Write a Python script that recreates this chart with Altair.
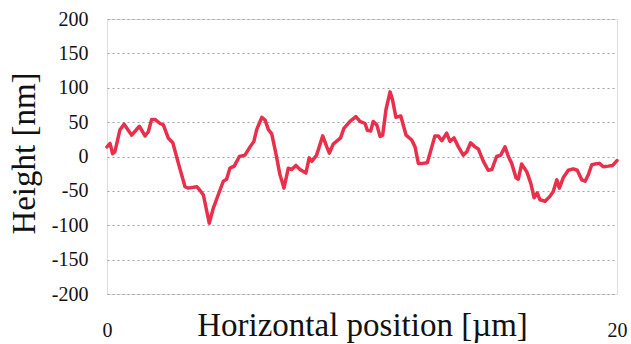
import altair as alt
import pandas as pd

# Surface height profile along a 20 µm scan line
position_um = [
    0.0, 0.12, 0.22, 0.31, 0.51, 0.67, 0.97, 1.27, 1.49, 1.62, 1.75, 1.88,
    2.08, 2.21, 2.40, 2.58, 2.80, 3.06, 3.19, 3.52, 3.62, 3.78, 4.01, 4.17,
    4.36, 4.56, 4.69, 4.82, 4.99, 5.19, 5.41, 5.61, 5.76, 5.87, 6.07, 6.20,
    6.33, 6.46, 6.63, 6.78, 6.94, 7.11, 7.24, 7.41, 7.57, 7.80, 7.93, 8.03,
    8.22, 8.46, 8.62, 8.72, 8.87, 9.16, 9.29, 9.53, 9.76, 9.92, 10.12, 10.21,
    10.34, 10.44, 10.58, 10.71, 10.81, 10.94, 11.10, 11.20, 11.33, 11.52, 11.73,
    11.95, 12.08, 12.21, 12.38, 12.56, 12.67, 12.86, 12.99, 13.13, 13.32, 13.45,
    13.61, 13.78, 13.97, 14.11, 14.26, 14.43, 14.56, 14.76, 14.95, 15.09, 15.28,
    15.44, 15.61, 15.74, 15.87, 16.04, 16.13, 16.26, 16.46, 16.62, 16.75, 16.87,
    16.98, 17.18, 17.37, 17.50, 17.64, 17.74, 17.89, 18.09, 18.29, 18.44, 18.62,
    18.75, 18.87, 19.01, 19.14, 19.31, 19.46, 19.66, 19.83, 20.0,
]
height_nm = [
    14, 19, 4, 7, 39, 47, 31, 44, 30, 36, 54, 54,
    48, 46, 27, 20, -10, -44, -46, -44, -48, -56, -97, -75,
    -56, -36, -33, -17, -14, 0, 2, 14, 22, 39, 57, 53,
    39, 33, 3, -26, -46, -17, -19, -13, -19, -24, -2, -7,
    2, 30, 14, 5, 18, 27, 41, 51, 58, 51, 48, 38,
    37, 51, 46, 29, 31, 68, 94, 82, 57, 59, 31,
    24, 14, -10, -10, -9, 5, 30, 30, 23, 34, 22,
    27, 14, 2, 7, 20, 14, 11, -7, -20, -19, 0,
    2, 14, 0, -10, -31, -33, -11, -22, -39, -60, -53,
    -63, -65, -58, -51, -34, -46, -31, -20, -18, -20, -34,
    -36, -27, -12, -11, -10, -15, -14, -13, -6,
]
x_ticks = [0, 20]
y_ticks = [-200, -150, -100, -50, 0, 50, 100, 150, 200]

df = pd.DataFrame({"pos": position_um, "h": height_nm})

serif = "Liberation Serif"
plain_number = "toString(datum.value)"

text_style = dict(
    labelFont=serif,
    labelFontSize=20,
    labelColor="#111",
    titleFont=serif,
    titleFontSize=33,
    titleFontWeight="normal",
    titleColor="#111",
)

chart = (
    alt.Chart(df)
    .mark_line(color="#e8304c", strokeWidth=3.5, strokeJoin="round", strokeCap="round")
    .encode(
        x=alt.X(
            "pos:Q",
            scale=alt.Scale(domain=[0, 20], nice=False, zero=False),
            axis=alt.Axis(
                values=x_ticks,
                labelExpr=plain_number,
                title="Horizontal position [µm]",
                grid=False,
                domain=False,
                ticks=False,
                tickSize=0,
                labelPadding=42,
                labelBaseline="alphabetic",
                labelFlush=False,
                titleBaseline="alphabetic",
                titleY=41,
                **text_style,
            ),
        ),
        y=alt.Y(
            "h:Q",
            scale=alt.Scale(domain=[-200, 200], nice=False),
            axis=alt.Axis(
                values=y_ticks,
                labelExpr=plain_number,
                title="Height [nm]",
                grid=True,
                gridDash=[2, 3],
                gridColor="#a0a0ac",
                gridWidth=1.2,
                domain=False,
                ticks=False,
                tickSize=0,
                labelPadding=19,
                titleBaseline="alphabetic",
                titleX=-73,
                titleY=134,
                **text_style,
            ),
        ),
    )
    .properties(
        width=510,
        height=275,
        autosize=alt.AutoSizeParams(type="none"),
        padding={"left": 107, "top": 19, "right": 14, "bottom": 50},
    )
    .configure_view(stroke="#a8a8b2", strokeWidth=1.5)
    .configure(background="white", font=serif)
)

chart.save("out.html", embed_options={"renderer": "svg", "actions": False})
